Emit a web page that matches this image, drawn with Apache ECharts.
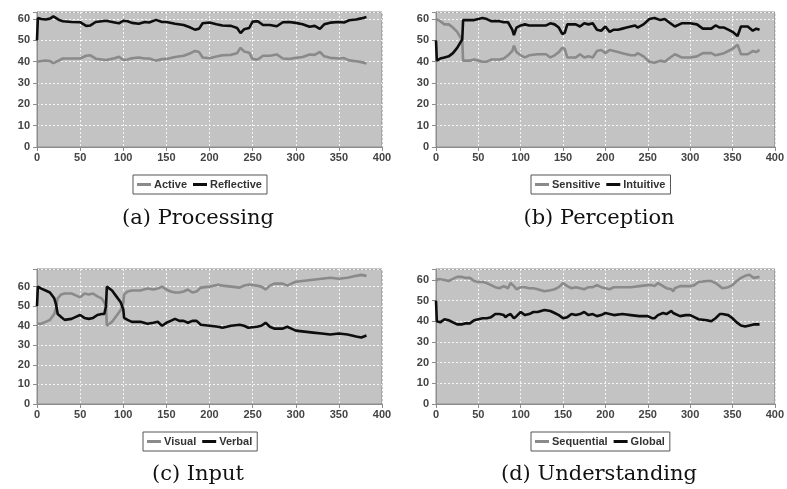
<!DOCTYPE html>
<html>
<head>
<meta charset="utf-8">
<script src="https://cdn.jsdelivr.net/npm/echarts@6/dist/echarts.min.js"></script>
<style>
html,body{margin:0;padding:0;background:#fff;}
#c{width:787px;height:489px;}
</style>
</head>
<body>
<div id="c"></div>
<script>
// ---- Panel (a) Processing ----
var xA = [0,1,5,10,15,19,25,30,40,50, 57,62,68,80,90,95,100,105,110,118, 125,130,138,145,150,160,170,178,183,188, 192,200,208,215,225,232,236,240,246,250, 256,262,270,278,285,292,300,308,316,322, 328,333,340,350,356,362,370,376,382];
var active = [40,39.5,40.3,40.6,40.3,39.3,40.5,41.5,41.5,41.5, 42.8,43,41.4,40.8,41.6,42.3,40.8,41,41.6,42, 41.5,41.5,40.5,41.2,41.3,42.2,42.8,44,45,44.5, 42,41.6,42.4,43,43.2,44,46.5,44.8,44.2,41.2, 41,42.8,42.8,43.4,41.5,41.3,41.8,42.2,43.4,43.2, 44.6,42.5,41.8,41.5,41.7,40.6,40.2,39.8,39.2];
var reflective = [50,60.5,60,59.8,60.2,61.2,59.7,59,58.6,58.5, 56.8,57,58.6,59.2,58.4,58,59.2,59,58.2,57.8, 58.6,58.4,59.6,58.6,58.6,57.8,57.2,56,55,55.5, 58,58.4,57.6,57,56.8,55.8,53.4,55.2,55.8,58.8, 59,57.2,57.2,56.6,58.5,58.6,58.2,57.6,56.4,56.8, 55.4,57.5,58.3,58.6,58.4,59.4,59.8,60.3,61];

// ---- Panel (b) Perception ----
var xB = [0,1,5,10,15,20,25,28,31,32, 35,40,45,50,55,60,65,70,75,80, 85,90,92,95,100,105,110,120,130,135, 140,145,149,152,155,160,165,170,175,180, 185,190,195,200,205,210,215,220,225,230, 235,238,245,252,258,265,270,275,282,290, 300,308,315,325,330,335,340,345,350,356, 360,368,374,378,382];
var sensitive = [60,59.5,59,57.5,57.5,56,54,52,50,40.5, 40.5,40.5,41,40.5,40,40,41,41,41,41.5, 43,45,47.5,44.5,43,42,43,43.5,43.5,42, 43,44.5,46.5,46,42,42,42,43.5,42,42.5, 42,45,45.5,44,45.5,45,44.5,44,43.5,43, 43,44,42.5,40,39.5,40.5,40,41.5,43.5,42, 42,42.5,44,44,43,43.5,44,45,46,48, 43.5,43.5,45,44.5,45.5];
var intuitive = [50,40.5,41.5,42,42.5,44,46.5,48.5,50.5,59.5, 59.5,59.5,59.5,60,60.5,60,59,59,59,58.5, 58.5,55,52.5,56,57,57.5,57,57,57,58, 57.5,56,53,53.5,57.5,57.5,57.5,56.5,58,57.5, 58,55,54.5,56.5,54,55,55,55.5,56,56.5, 57,56,57.5,60,60.5,59.5,60,58.5,56.5,58, 58,57.5,55.5,55.5,57,56,56,55,54,52, 56.5,56.5,54.5,55.5,55];

// ---- Panel (c) Input ----
var xC = [0,1,5,10,15,20,22,24,28,32, 40,45,50,55,60,65,70,75,78,80, 81,82,87,92,97,100,101,105,110,120, 128,135,140,145,150,155,160,165,170,175, 180,185,190,200,210,215,225,235,240,245, 255,260,265,270,275,285,290,295,300,310, 320,330,340,350,360,370,376,382];
var visual = [41,41,41,42,43,46,49,54,56,56.5, 56.5,55.5,54.5,56.5,56,56.5,55,54,52,50, 40,40,42,45,48,51.5,56,57.5,58,58, 59,58.5,59,60,58.5,57.5,57,57,57.5,58.5, 57,57.5,59.5,60,61,60.5,60,59.5,60.5,61, 60.5,60,58.5,60.5,61.5,61.5,60.5,61.5,62.5,63, 63.5,64,64.5,64,64.5,65.5,66,65.5];
var verbal = [50,60,59,58,57,54,51,46,44.5,43, 43.5,44.5,45.5,44,43.5,44,45.5,46,46,50, 60,60,58,55,52,48.5,44,43,42,42, 41,41.5,42,40,41.5,42.5,43.5,42.5,42.5,41.5, 42.5,42.5,40.5,40,39.5,39,40,40.5,40,39, 39.5,40,41.5,39.5,38.5,38.5,39.5,38.5,37.5,37, 36.5,36,35.5,36,35.5,34.5,34,35];

// ---- Panel (d) Understanding ----
var xD = [0,1,3,5,10,15,20,25,30,35, 40,45,50,55,60,65,70,75,80,82, 85,88,92,95,100,105,110,115,120,128, 135,140,145,150,155,160,165,170,175,180, 185,190,195,200,205,210,220,230,240,250, 255,258,262,268,272,278,280,282,288,295, 300,305,310,320,325,330,335,338,345,350, 355,360,365,370,375,382];
var sequential = [59.5,59.5,60.5,60.5,60,59.5,60.5,61.5,61.5,61, 61,59.5,59,59,58.5,57.5,56.5,56,57,57, 56,58.5,57,55.5,56.5,56.5,56,56,55.5,54.5, 55,55.5,56.5,58.5,57,56,56.5,56,55.5,56.5, 56.5,57.5,56.5,56,55.5,56.5,56.5,56.5,57,57.5, 57.5,57,58.5,57,56,55.5,54.5,56,57,57, 57,57.5,59,59.5,59.5,58.5,57,56,56.5,57.5, 59.5,61,62,62.5,61,61.5];
var global = [50,40,40,39.5,41,40.5,39.5,38.5,38.5,39, 39,40.5,41,41.5,41.5,42,43.5,43.5,43,42, 43,43.5,41.5,42.5,44.5,43,43.5,44.5,44.5,45.5, 45,44,43,41.5,42,43.5,43,43.5,44.5,43, 43.5,42.5,43,44,43.5,43,43.5,43,42.5,42.5, 41.5,41.5,43,44,43.5,45,44,43.5,42.5,43, 43,42,41,40.5,40,41.5,43.5,43.5,43,41.5, 39.5,38,37.5,38,38.5,38.5];

var xTicks = {min:0, max:400, interval:50};
var yTicks = {min:0, interval:10};
var captions = ['(a) Processing','(b) Perception','(c) Input','(d) Understanding'];

var panels = [
  {grid:{left:37, top:12, width:345, height:135}, ymax:63.3, x:xA, s:[['Active',active],['Reflective',reflective]], legend:{left:133, top:175}, cap:[198,219]},
  {grid:{left:436, top:12, width:346, height:135}, ymax:63.3, x:xB, s:[['Sensitive',sensitive],['Intuitive',intuitive]], legend:{left:531, top:175}, cap:[599,219]},
  {grid:{left:37, top:269, width:345, height:135}, ymax:69, x:xC, s:[['Visual',visual],['Verbal',verbal]], legend:{left:143, top:432}, cap:[198,475]},
  {grid:{left:436, top:269, width:346, height:135}, ymax:65.3, x:xD, s:[['Sequential',sequential],['Global',global]], legend:{left:531, top:432}, cap:[599,475]}
];

var colors = ['#8a8a8a', '#0d0d0d'];
var labelStyle = {fontFamily:'Liberation Sans, Arial, sans-serif', fontWeight:'bold', fontSize:11, color:'#444'};

function pairs(xs, ys){ var out=[]; for (var i=0;i<xs.length;i++) out.push([xs[i], ys[i]]); return out; }

var option = {animation:false, backgroundColor:'#fff', grid:[], xAxis:[], yAxis:[], series:[], legend:[], graphic:[]};
panels.forEach(function(p, k){
  option.grid.push(Object.assign({show:true, backgroundColor:'#c3c3c3', borderColor:'#8c8c8c', borderWidth:1}, p.grid));
  option.xAxis.push({type:'value', gridIndex:k, min:xTicks.min, max:xTicks.max, interval:xTicks.interval,
    axisLine:{show:true, onZero:false, lineStyle:{color:'#8c8c8c', width:1}},
    axisTick:{show:true, length:4, lineStyle:{color:'#8c8c8c'}},
    axisLabel:Object.assign({margin:5}, labelStyle),
    splitLine:{show:true, lineStyle:{color:'#ffffff', type:[2,2], width:1, opacity:0.85}}});
  option.yAxis.push({type:'value', gridIndex:k, min:yTicks.min, max:p.ymax, interval:yTicks.interval,
    axisLine:{show:true, onZero:false, lineStyle:{color:'#8c8c8c', width:1}},
    axisTick:{show:true, length:4, lineStyle:{color:'#8c8c8c'}},
    axisLabel:Object.assign({margin:7, formatter:function(v){ return (Math.abs(v % 10) < 1e-9) ? String(v) : ''; }}, labelStyle),
    splitLine:{show:true, lineStyle:{color:'#ffffff', type:[2,2], width:1, opacity:0.85}}});
  var names = [];
  p.s.forEach(function(s, j){
    names.push(s[0]);
    option.series.push({type:'line', name:s[0], xAxisIndex:k, yAxisIndex:k, data:pairs(p.x, s[1]),
      showSymbol:false, symbol:'none', smooth:false, z: j+2,
      lineStyle:{color:colors[j], width:2.6}, itemStyle:{color:colors[j]}});
  });
  option.legend.push({data:names, left:p.legend.left, top:p.legend.top, orient:'horizontal',
    icon:'rect', itemWidth:14, itemHeight:3, itemGap:6,
    padding:[4,5,4,4], borderColor:'#555', borderWidth:1, backgroundColor:'#fff',
    textStyle:{fontFamily:'Liberation Sans, Arial, sans-serif', fontWeight:'bold', fontSize:11, color:'#333', padding:[0,0,0,-2]}});
  option.graphic.push({type:'text', x:p.cap[0], y:p.cap[1],
    style:{text:captions[k], fontFamily:'DejaVu Serif, serif', fontSize:21, fill:'#111', align:'center', verticalAlign:'middle'}});
});

var chart = echarts.init(document.getElementById('c'), null, {renderer:'canvas'});
chart.setOption(option);
</script>
</body>
</html>
